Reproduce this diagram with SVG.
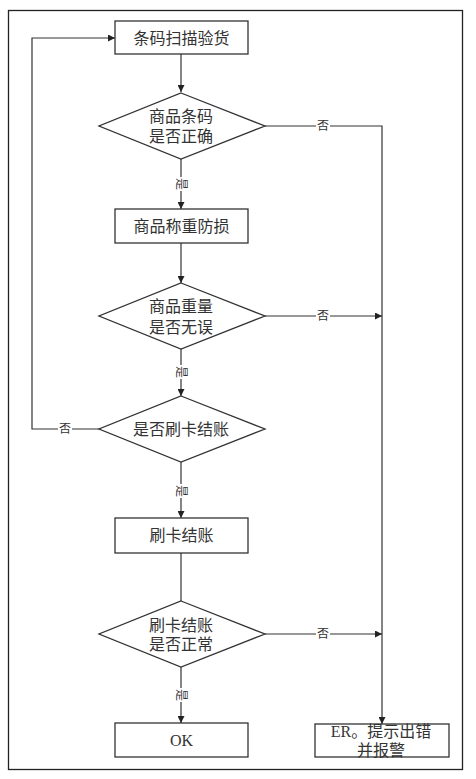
<svg xmlns="http://www.w3.org/2000/svg" width="476" height="779" viewBox="0 0 476 779">
<style>
.node{fill:#fff;stroke:#333;stroke-width:1.3}
.t{font-family:"Liberation Serif","Noto Sans CJK SC",serif;font-size:16px;fill:#333;text-anchor:middle;dominant-baseline:central}
.lb{font-family:"Liberation Serif","Noto Sans CJK SC",serif;font-size:12px;fill:#333;text-anchor:middle;dominant-baseline:central}
.c{fill:none;stroke:#333;stroke-width:1.2}
.bg{fill:#fff}
</style>
<defs>
<marker id="ah" viewBox="0 0 10 10" refX="10" refY="5" markerWidth="7" markerHeight="7" markerUnits="userSpaceOnUse" orient="auto">
<path d="M0,0 L10,5 L0,10 z" fill="#222"/>
</marker>
</defs>
<rect x="0" y="0" width="476" height="779" fill="#fff"/>
<rect x="8.5" y="10.5" width="454" height="759" fill="none" stroke="#222" stroke-width="1.3"/>
<g id="connectors">
<path class="c" d="M181,54 V92" marker-end="url(#ah)"/>
<path class="c" d="M181,159 V209" marker-end="url(#ah)"/>
<path class="c" d="M181,243 V283" marker-end="url(#ah)"/>
<path class="c" d="M181,349 V396" marker-end="url(#ah)"/>
<path class="c" d="M181,462 V518" marker-end="url(#ah)"/>
<path class="c" d="M181,553 V601"/>
<path class="c" d="M181,667 V723" marker-end="url(#ah)"/>
<path class="c" d="M265,126 H382 V724" marker-end="url(#ah)"/>
<path class="c" d="M265,316 H382" marker-end="url(#ah)"/>
<path class="c" d="M265,634 H382" marker-end="url(#ah)"/>
<path class="c" d="M99,429 H32 V38 H115" marker-end="url(#ah)"/>
<rect class="bg" x="316" y="119" width="14" height="14"/>
<text class="lb" x="323" y="126">否</text>
<rect class="bg" x="316" y="309" width="14" height="14"/>
<text class="lb" x="323" y="316">否</text>
<rect class="bg" x="316" y="627" width="14" height="14"/>
<text class="lb" x="323" y="634">否</text>
<rect class="bg" x="58" y="422" width="14" height="14"/>
<text class="lb" x="65" y="429">否</text>
<rect class="bg" x="174" y="177" width="14" height="14"/>
<text class="lb" transform="translate(181,184) rotate(90)">是</text>
<rect class="bg" x="174" y="365" width="14" height="14"/>
<text class="lb" transform="translate(181,372) rotate(90)">是</text>
<rect class="bg" x="174" y="484" width="14" height="14"/>
<text class="lb" transform="translate(181,491) rotate(90)">是</text>
<rect class="bg" x="174" y="688" width="14" height="14"/>
<text class="lb" transform="translate(181,695) rotate(90)">是</text>
</g>
<g id="n1">
<rect class="node" x="115" y="21" width="133" height="33"/>
<text class="t" x="181.5" y="38">条码扫描验货</text>
</g>
<g id="d1">
<polygon class="node" points="181,93 265,126 181,159 99,126"/>
<text class="t" x="181" y="116">商品条码</text>
<text class="t" x="181" y="136">是否正确</text>
</g>
<g id="n2">
<rect class="node" x="115" y="209" width="133" height="34"/>
<text class="t" x="181.5" y="226">商品称重防损</text>
</g>
<g id="d2">
<polygon class="node" points="181,283 265,316 181,349 99,316"/>
<text class="t" x="181" y="306">商品重量</text>
<text class="t" x="181" y="327">是否无误</text>
</g>
<g id="d3">
<polygon class="node" points="181,396 265,429 181,462 99,429"/>
<text class="t" x="181" y="429">是否刷卡结账</text>
</g>
<g id="n3">
<rect class="node" x="115" y="518" width="133" height="35"/>
<text class="t" x="181.5" y="535">刷卡结账</text>
</g>
<g id="d4">
<polygon class="node" points="181,601 265,634 181,667 99,634"/>
<text class="t" x="181" y="625">刷卡结账</text>
<text class="t" x="181" y="644">是否正常</text>
</g>
<g id="ok">
<rect class="node" x="115" y="723" width="133" height="34"/>
<text class="t" x="181.5" y="740">OK</text>
</g>
<g id="er">
<rect class="node" x="315" y="724" width="134" height="33"/>
<text class="t" x="381" y="731">ER。提示出错</text>
<text class="t" x="381" y="750">并报警</text>
</g>
</svg>
